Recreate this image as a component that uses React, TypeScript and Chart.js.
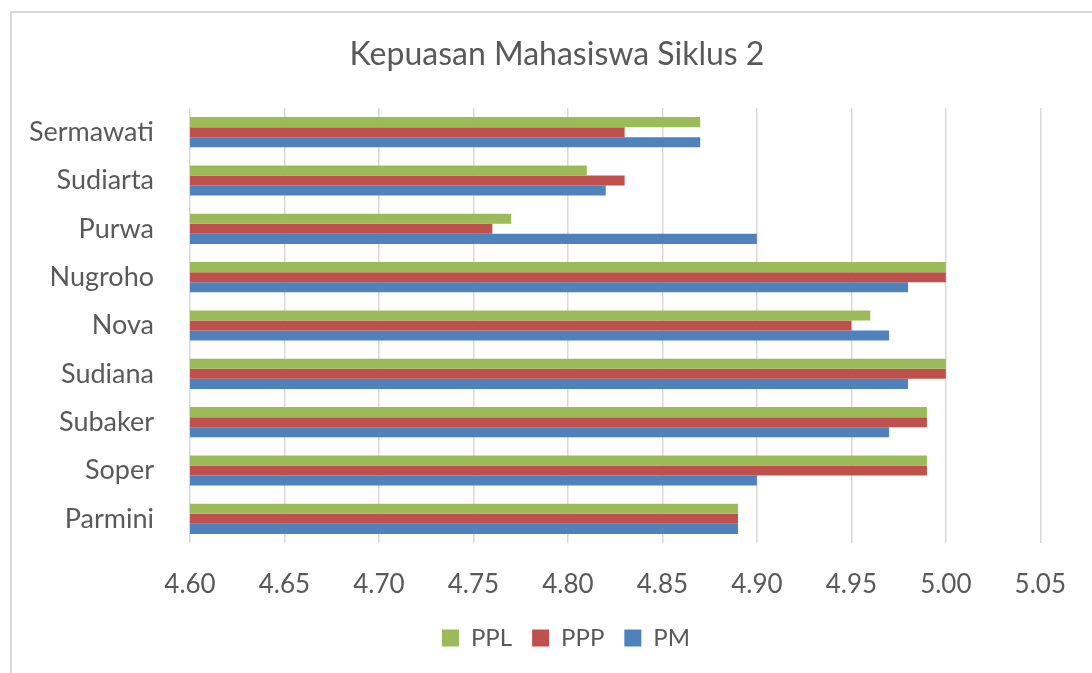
import React, { useEffect, useRef } from "react";
import { Chart, registerables } from "chart.js";

Chart.register(...registerables);

const categories = ["Sermawati", "Sudiarta", "Purwa", "Nugroho", "Nova", "Sudiana", "Subaker", "Soper", "Parmini"];
const pplValues = [4.87, 4.81, 4.77, 5.0, 4.96, 5.0, 4.99, 4.99, 4.89];
const pppValues = [4.83, 4.83, 4.76, 5.0, 4.95, 5.0, 4.99, 4.99, 4.89];
const pmValues = [4.87, 4.82, 4.9, 4.98, 4.97, 4.98, 4.97, 4.9, 4.89];
const seriesNames = ["PPL", "PPP", "PM"];
const xMin = 4.6;
const xMax = 5.05;
const xStep = 0.05;

const FONT = "Lato, 'Open Sans', sans-serif";
const TEXT = "#595959";

const centerPlugin = {
  id: "centerBlocks",
  afterLayout(chart: any) {
    if (chart.titleBlock) {
      chart.titleBlock.left = 22;
      chart.titleBlock.right = 1092;
    }
    if (chart.legend) {
      chart.legend.left = 40;
      chart.legend.right = 1092;
    }
  },
};

export default function App() {
  const ref = useRef<HTMLCanvasElement>(null);
  useEffect(() => {
    document.body.style.overflow = "hidden";
    const chart = new Chart(ref.current!, {
      type: "bar",
      data: {
        labels: categories,
        datasets: [
          { label: seriesNames[0], data: pplValues, backgroundColor: "#9BBB59" },
          { label: seriesNames[1], data: pppValues, backgroundColor: "#C0504D" },
          { label: seriesNames[2], data: pmValues, backgroundColor: "#4F81BD" },
        ],
      },
      plugins: [centerPlugin],
      options: {
        indexAxis: "y",
        animation: false,
        responsive: false,
        maintainAspectRatio: false,
        datasets: { bar: { categoryPercentage: 0.624, barPercentage: 1 } },
        layout: { padding: { left: 0, right: 49, top: 0, bottom: 13 } },
        plugins: {
          title: {
            display: true,
            text: "Kepuasan Mahasiswa Siklus 2",
            color: TEXT,
            font: { family: FONT, size: 32, weight: "normal" },
            padding: { top: 35.8, bottom: 33.8 },
          },
          legend: {
            position: "bottom",
            labels: {
              color: TEXT,
              font: { family: FONT, size: 24 },
              boxWidth: 17,
              boxHeight: 17,
              padding: 20,
            },
          },
          tooltip: { enabled: false },
        },
        scales: {
          x: {
            min: xMin,
            max: xMax,
            ticks: {
              stepSize: xStep,
              color: TEXT,
              font: { family: FONT, size: 26 },
              padding: 26,
              callback: (v: any) => Number(v).toFixed(2),
            },
            grid: { color: "#d9d9d9", lineWidth: 1.5, drawTicks: false },
            border: { display: false },
            afterFit: (s: any) => {
              s.height = 63;
            },
          },
          y: {
            ticks: {
              color: TEXT,
              font: { family: FONT, size: 27 },
              padding: 36,
            },
            grid: { display: false, drawTicks: false },
            border: { display: false },
            afterFit: (s: any) => {
              s.width = 190;
            },
          },
        },
      },
    });
    return () => chart.destroy();
  }, []);
  return (
    <div style={{ position: "fixed", left: 0, top: 0, width: 1092, height: 673, background: "#fff" }}>
      <div
        style={{
          position: "absolute",
          left: 10,
          top: 11,
          width: 1100,
          height: 700,
          borderLeft: "2px solid #d9d9d9",
          borderTop: "2px solid #d9d9d9",
        }}
      />
      <canvas ref={ref} width={1092} height={673} style={{ position: "absolute", left: 0, top: 0 }} />
    </div>
  );
}
